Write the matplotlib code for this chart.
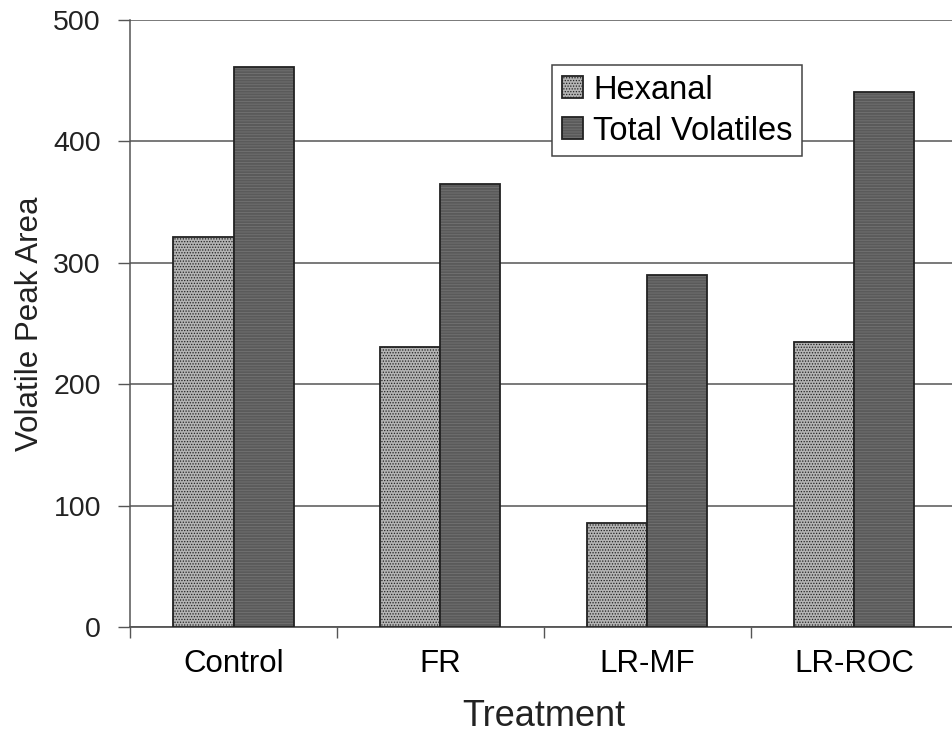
import numpy as np
import matplotlib
matplotlib.use('Agg')
import matplotlib.pyplot as plt

plt.rcParams['font.family'] = ['Liberation Sans', 'DejaVu Sans']
plt.rcParams['hatch.linewidth'] = 0.6

tratamentos = ['Control', 'FR', 'LR-MF', 'LR-ROC']
hexanal = [321, 231, 86, 235]
total_volateis = [461, 365, 290, 441]

fig = plt.figure(figsize=(9.52, 7.54), dpi=100)
ax = fig.add_axes([0.1366, 0.1684, 0.8694, 0.805])

x = np.arange(len(tratamentos))
largura = 0.29

plt.rcParams['hatch.color'] = '#9a9a9a'
b1 = ax.bar(x - largura / 2, hexanal, largura, color='#b4b4b4', edgecolor='#222222',
            linewidth=1.3, hatch='......', label='Hexanal', zorder=3)
b2 = ax.bar(x + largura / 2, total_volateis, largura, color='#5a5a5a', edgecolor='#222222',
            linewidth=1.3, hatch='------', label='Total Volatiles', zorder=3)
for b in b2:
    b._hatch_color = (0.45, 0.45, 0.45, 1.0)

ax.set_xlim(-0.5, 3.5)
ax.set_ylim(0, 500)
ax.set_yticks([0, 100, 200, 300, 400, 500])
ax.yaxis.grid(True, color='#555555', linewidth=1.1, zorder=0)
ax.set_axisbelow(True)

ax.set_xticks(x)
ax.set_xticklabels(tratamentos, fontsize=22.5)
ax.set_xticks(np.arange(-0.5, 4.0, 1.0), minor=True)
ax.tick_params(axis='x', which='major', length=0, pad=16)
ax.tick_params(axis='x', which='minor', length=8, width=1, color='#555555', direction='out')
ax.tick_params(axis='y', labelsize=20.5, length=9, width=1, color='#555555', pad=12, labelcolor='#222222')

for lado in ['top', 'right']:
    ax.spines[lado].set_visible(False)
ax.spines['left'].set_color('#555555')
ax.spines['bottom'].set_color('#555555')
ax.spines['left'].set_linewidth(1.1)
ax.spines['bottom'].set_linewidth(1.3)

ax.set_xlabel('Treatment', fontsize=26, labelpad=14, color='#222222')
ax.set_ylabel('Volatile Peak Area', fontsize=22.5, labelpad=6, color='#222222')

leg = ax.legend(loc='upper left', bbox_to_anchor=(0.51, 0.926), fontsize=23.5,
                fancybox=False, framealpha=1, edgecolor='#444444',
                handlelength=0.65, handleheight=0.65, handletextpad=0.3,
                borderpad=0.3, labelspacing=0.3, borderaxespad=0)
leg.get_frame().set_linewidth(1.1)

plt.savefig('out.png', dpi=100)
